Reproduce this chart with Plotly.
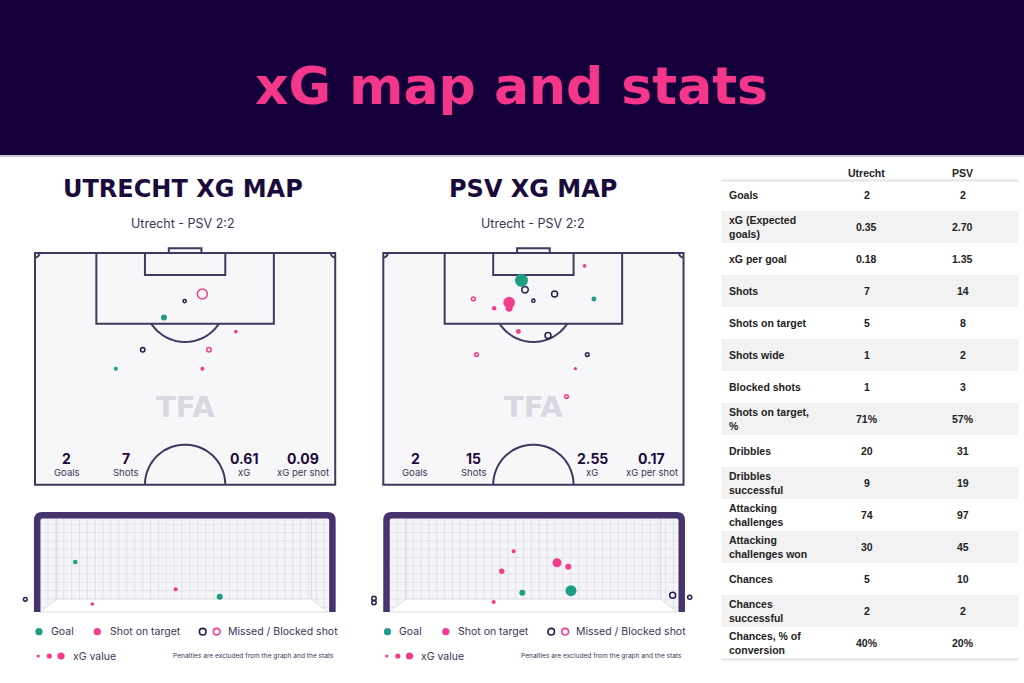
import numpy as np
import plotly.graph_objects as go

W, H = 1024, 683

# ---------------- data ----------------
title_text = "xG map and stats"
team_names = ["Utrecht", "PSV"]
panel_titles = ["UTRECHT XG MAP", "PSV XG MAP"]
match_label = "Utrecht - PSV 2:2"

pitch_stat_labels = ["Goals", "Shots", "xG", "xG per shot"]
utr_pitch_stats = ["2", "7", "0.61", "0.09"]
psv_pitch_stats = ["2", "15", "2.55", "0.17"]

# shots on the pitch (metres: x across 0-68, y distance from goal line)
utr_shot_x = [37.9, 33.9, 29.2, 45.5, 24.4, 39.4, 18.3, 37.9]
utr_shot_y = [9.3, 10.9, 14.6, 17.8, 21.9, 21.9, 26.2, 26.2]
utr_shot_xg = [0.44, 0.01, 0.11, 0.02, 0.04, 0.04, 0.03, 0.03]
utr_shot_type = ["blocked", "missed", "goal", "on_target", "missed", "blocked", "goal", "on_target"]

psv_shot_x = [45.6, 31.3, 32.1, 38.8, 20.4, 47.7, 28.5, 28.5, 34.0, 25.1, 30.6, 37.3, 21.1, 46.2, 43.5, 41.5]
psv_shot_y = [2.9, 6.2, 8.3, 9.3, 10.4, 10.4, 11.2, 12.5, 10.8, 12.5, 17.8, 18.7, 23.0, 23.0, 26.2, 32.5]
psv_shot_xg = [0.02, 0.84, 0.14, 0.11, 0.02, 0.06, 0.63, 0.17, 0.01, 0.04, 0.06, 0.11, 0.02, 0.02, 0.01, 0.02]
psv_shot_type = ["on_target", "goal", "missed", "missed", "blocked", "goal", "on_target", "on_target",
                 "missed", "on_target", "on_target", "missed", "blocked", "missed", "on_target", "blocked"]

# shots on the goal mouth (metres: x across goal 0-7.3, y height above ground)
utr_goal_x = [0.894, 1.325, 3.437, 4.552, -0.372]
utr_goal_y = [1.114, -0.15, 0.29, 0.07, -0.01]
utr_goal_xg = [0.05, 0.02, 0.03, 0.11, 0.02]
utr_goal_type = ["goal", "on_target", "on_target", "goal", "missed"]

psv_goal_x = [3.151, 4.248, 4.534, 2.847, 3.369, 4.602, 2.644, 7.178, 7.609, -0.388, -0.388]
psv_goal_y = [1.437, 1.093, 0.973, 0.834, 0.19, 0.25, -0.09, 0.11, 0.05, 0.015, -0.105]
psv_goal_xg = [0.03, 0.34, 0.11, 0.08, 0.11, 0.56, 0.03, 0.11, 0.03, 0.04, 0.04]
psv_goal_type = ["on_target", "on_target", "on_target", "on_target", "goal", "goal", "on_target",
                 "missed", "missed", "missed", "missed"]

table_labels = ["Goals", "xG (Expected<br>goals)", "xG per goal", "Shots", "Shots on target",
                "Shots wide", "Blocked shots", "Shots on target,<br>%", "Dribbles",
                "Dribbles<br>successful", "Attacking<br>challenges", "Attacking<br>challenges won",
                "Chances", "Chances<br>successful", "Chances, % of<br>conversion"]
table_utr = ["2", "0.35", "0.18", "7", "5", "1", "1", "71%", "20", "9", "74", "30", "5", "2", "40%"]
table_psv = ["2", "2.70", "1.35", "14", "8", "2", "3", "57%", "31", "19", "97", "45", "10", "2", "20%"]

legend_labels = ["Goal", "Shot on target", "Missed / Blocked shot", "xG value"]
footnote = "Penalties are excluded from the graph and the stats"

# ---------------- styles ----------------
NAVY = "#16003b"
TITLE_PINK = "#f4378b"
PINK = "#f23c8c"
TEAL = "#1f9e86"
DARK = "#2b1c50"
LINE = "#41375f"
FRAME = "#46326d"
TXT = "#1b0a3c"
SUB = "#3d3358"

def px(x):
    return x / W

def py(y):
    return 1 - y / H

def msize(xg):
    return 2 + 12 * np.sqrt(np.array(xg))

fig = go.Figure()
shapes = []
annotations = []

def ann(text, x, y, size, color, family="Inter", xanchor="center", yanchor="middle", xref="paper",
        yref="paper", align="center"):
    annotations.append(dict(text=text, x=x, y=y, xref=xref, yref=yref, showarrow=False,
                            xanchor=xanchor, yanchor=yanchor, align=align,
                            font=dict(family=family, size=size, color=color)))

# header
shapes.append(dict(type="rect", xref="paper", yref="paper", x0=0, x1=1, y0=py(155), y1=1,
                   fillcolor=NAVY, line=dict(width=0), layer="below"))
shapes.append(dict(type="line", xref="paper", yref="paper", x0=0, x1=1, y0=py(156), y1=py(156),
                   line=dict(color="#cbc7d4", width=2), layer="below"))
ann("<b>" + title_text + "</b>", px(511), py(86), 52, TITLE_PINK, family="DejaVu Sans")

# ---------------- axes ----------------
S = 4.415  # px per metre on the pitch
pitch_left = [35.0, 383.3]
pitch_top = 253.0
XR = [-1.5, 69.5]
YR = [-2.0, 53.5]

GS_X = 39.48  # px per metre across goal
GS_Y = 33.2   # px per metre of height
goal_left_inner = [40.0, 389.3]
ground_px = 599.0
GX = [-0.75, 8.05]
GY = [-0.45, 2.6]
GOAL_W = 7.3
NET_BOTTOM = -0.392
NET_TOP = 2.44

layout_axes = {}
for i in range(2):
    n = "" if i == 0 else "2"
    xl = pitch_left[i] + XR[0] * S
    xr = pitch_left[i] + XR[1] * S
    yt = pitch_top + YR[0] * S
    yb = pitch_top + YR[1] * S
    layout_axes["xaxis" + n] = dict(domain=[px(xl), px(xr)], range=XR, visible=False,
                                    anchor="y" + n, fixedrange=True)
    layout_axes["yaxis" + n] = dict(domain=[py(yb), py(yt)], range=[YR[1], YR[0]], visible=False,
                                    anchor="x" + n, fixedrange=True)
    m = str(i + 3)
    gl = goal_left_inner[i]
    gxl = gl + GX[0] * GS_X
    gxr = gl + GX[1] * GS_X
    gyt = ground_px - GY[1] * GS_Y
    gyb = ground_px - GY[0] * GS_Y
    layout_axes["xaxis" + m] = dict(domain=[px(gxl), px(gxr)], range=GX, visible=False,
                                    anchor="y" + m, fixedrange=True)
    layout_axes["yaxis" + m] = dict(domain=[py(gyb), py(gyt)], range=GY, visible=False,
                                    anchor="x" + m, fixedrange=True)

def arc_path(cx, cy, r, t0, t1, sign_y=1, n=40):
    t = np.linspace(t0, t1, n)
    xs = cx + r * np.cos(t)
    ys = cy + sign_y * r * np.sin(t)
    return "M " + " L ".join(f"{a:.3f},{b:.3f}" for a, b in zip(xs, ys))

# ---------------- pitches ----------------
for i in range(2):
    xref = "x" if i == 0 else "x2"
    yref = "y" if i == 0 else "y2"
    lw = dict(color=LINE, width=2)
    shapes.append(dict(type="rect", xref=xref, yref=yref, x0=0, x1=68, y0=0, y1=52.5,
                       fillcolor="#f7f7f9", line=lw, layer="below"))
    shapes.append(dict(type="rect", xref=xref, yref=yref, x0=13.9, x1=54.1, y0=0, y1=16.0,
                       line=lw, layer="below"))
    shapes.append(dict(type="rect", xref=xref, yref=yref, x0=24.9, x1=43.1, y0=0, y1=5.0,
                       line=lw, layer="below"))
    shapes.append(dict(type="rect", xref=xref, yref=yref, x0=30.3, x1=37.7, y0=-1.1, y1=0,
                       line=lw, fillcolor="#f7f7f9", layer="below"))
    a0 = np.arcsin((16.0 - 11.0) / 9.15)
    shapes.append(dict(type="path", xref=xref, yref=yref, path=arc_path(34, 11, 9.15, a0, np.pi - a0),
                       line=lw, layer="below"))
    shapes.append(dict(type="path", xref=xref, yref=yref, path=arc_path(34, 52.5, 9.1, 0, np.pi, sign_y=-1),
                       line=lw, layer="below"))
    shapes.append(dict(type="path", xref=xref, yref=yref, path=arc_path(0, 0, 1.0, 0, np.pi / 2),
                       line=lw, layer="below"))
    shapes.append(dict(type="path", xref=xref, yref=yref, path=arc_path(68, 0, 1.0, np.pi / 2, np.pi),
                       line=lw, layer="below"))
    ann("<b>TFA</b>", 34, 34.9, 29, "#d9d8e2", family="DejaVu Sans", xref=xref, yref=yref)
    stats = utr_pitch_stats if i == 0 else psv_pitch_stats
    for sx, val, lab in zip([7.2, 20.5, 47.3, 60.8], stats, pitch_stat_labels):
        ann("<b>" + val + "</b>", sx, 46.6, 14, TXT, xref=xref, yref=yref)
        ann(lab, sx, 49.8, 9.5, SUB, xref=xref, yref=yref)

# panel titles
for i in range(2):
    cx = [183.3, 532.5][i]
    ann("<b>" + panel_titles[i] + "</b>", px(cx), py(189), 24, TXT, family="DejaVu Sans")
    ann(match_label, px(cx), py(223.5), 12.5, SUB)

# ---------------- goal nets and frames ----------------
for i in range(2):
    dx = 0 if i == 0 else 349.3
    m = str(i + 3)
    xr_, yr_ = "x" + m, "y" + m
    shapes.append(dict(type="rect", xref=xr_, yref=yr_, x0=0, x1=GOAL_W, y0=NET_BOTTOM, y1=NET_TOP,
                       fillcolor="#f5f5f8", line=dict(width=0), layer="below"))
    segs = []
    for gx in np.arange(0.2, GOAL_W - 0.01, 0.2):
        segs.append(f"M {gx:.3f},{NET_BOTTOM} L {gx:.3f},{NET_TOP}")
    for gy in np.arange(-0.25, NET_TOP - 0.01, 0.25):
        segs.append(f"M 0,{gy:.3f} L {GOAL_W},{gy:.3f}")
    shapes.append(dict(type="path", xref=xr_, yref=yr_, path=" ".join(segs),
                       line=dict(color="#e2e2ea", width=1), layer="below"))
    shapes.append(dict(type="path", xref=xr_, yref=yr_,
                       path=f"M 0,{NET_BOTTOM} L 0.43,0 L 6.87,0 L {GOAL_W},{NET_BOTTOM} Z",
                       fillcolor="white", line=dict(color="#dcdce4", width=1), layer="below"))
    for bx in [0.43, 6.87]:
        shapes.append(dict(type="line", xref=xr_, yref=yr_, x0=bx, x1=bx, y0=0, y1=NET_TOP,
                           line=dict(color="#d6d6e0", width=1), layer="below"))
    lx = 37.2 + dx
    rx = 332.4 + dx
    ty = 515.3
    r = 5
    path = (f"M {px(lx)},{py(612)} L {px(lx)},{py(ty + r)} Q {px(lx)},{py(ty)} {px(lx + r)},{py(ty)} "
            f"L {px(rx - r)},{py(ty)} Q {px(rx)},{py(ty)} {px(rx)},{py(ty + r)} L {px(rx)},{py(612)}")
    shapes.append(dict(type="path", xref="paper", yref="paper", path=path,
                       line=dict(color=FRAME, width=6.5), layer="above"))

# ---------------- shot traces ----------------
STYLE = {
    "goal": dict(symbol="circle", color=TEAL),
    "on_target": dict(symbol="circle", color=PINK),
    "missed": dict(symbol="circle-open", color=DARK),
    "blocked": dict(symbol="circle-open", color=PINK),
}

def add_shots(xs, ys, xgs, types, xa, ya):
    xs = np.array(xs); ys = np.array(ys); xgs = np.array(xgs); types = np.array(types)
    for kind in ["missed", "blocked", "on_target", "goal"]:
        sel = types == kind
        if not sel.any():
            continue
        st = STYLE[kind]
        open_ = st["symbol"].endswith("open")
        fig.add_trace(go.Scatter(
            x=xs[sel], y=ys[sel], mode="markers", xaxis=xa, yaxis=ya, cliponaxis=False,
            showlegend=False, hoverinfo="skip",
            marker=dict(symbol=st["symbol"], color=st["color"], size=msize(xgs[sel]),
                        line=dict(width=1.5 if open_ else 0, color=st["color"]), opacity=1)))

add_shots(utr_shot_x, utr_shot_y, utr_shot_xg, utr_shot_type, "x", "y")
add_shots(psv_shot_x, psv_shot_y, psv_shot_xg, psv_shot_type, "x2", "y2")
add_shots(utr_goal_x, utr_goal_y, utr_goal_xg, utr_goal_type, "x3", "y3")
add_shots(psv_goal_x, psv_goal_y, psv_goal_xg, psv_goal_type, "x4", "y4")

# ---------------- legends ----------------
def circle(cx, cy, r, fill=None, line=None):
    d = dict(type="circle", xref="paper", yref="paper", x0=px(cx - r), x1=px(cx + r),
             y0=py(cy + r), y1=py(cy - r), layer="above")
    if fill:
        d["fillcolor"] = fill
        d["line"] = dict(width=0)
    else:
        d["fillcolor"] = "white"
        d["line"] = dict(color=line, width=1.6)
    return d

for i in range(2):
    dx = 0 if i == 0 else 348.5
    y1, y2 = 631.7, 656.0
    shapes.append(circle(39 + dx, y1, 3.6, fill=TEAL))
    shapes.append(circle(97.3 + dx, y1, 3.6, fill=PINK))
    shapes.append(circle(202.7 + dx, y1, 3.3, line=DARK))
    shapes.append(circle(216.7 + dx, y1, 3.3, line=PINK))
    shapes.append(circle(38.3 + dx, y2, 1.6, fill=PINK))
    shapes.append(circle(49.3 + dx, y2, 2.6, fill=PINK))
    shapes.append(circle(61.0 + dx, y2, 3.6, fill=PINK))
    for tx, ty, lab in [(48.5, y1, legend_labels[0]), (107.5, y1, legend_labels[1]),
                        (225.5, y1, legend_labels[2]), (70.5, y2, legend_labels[3])]:
        ann(lab, px(tx + dx), py(ty), 10.5, SUB, xanchor="left")
    ann(footnote, px(335.5 + dx), py(y2), 6.6, SUB, xanchor="right")

# ---------------- table ----------------
TL, TR = 721.5, 1018.5
row_top0 = 179.0
row_h = 32.0
TFONT = "Liberation Sans"
for k in range(len(table_labels)):
    top = row_top0 + k * row_h
    if k % 2 == 1:
        shapes.append(dict(type="rect", xref="paper", yref="paper", x0=px(TL), x1=px(TR),
                           y0=py(top + row_h), y1=py(top), fillcolor="#f2f2f3",
                           line=dict(width=0), layer="below"))
    cy = top + row_h / 2
    ann("<b>" + table_labels[k] + "</b>", px(727), py(cy), 10.5, "#222222", family=TFONT,
        xanchor="left", align="left")
    for cx, val in [(866.7, table_utr[k]), (962.7, table_psv[k])]:
        ann("<b>" + val + "</b>", px(cx), py(cy), 10.5, "#222222", family=TFONT)
for cx, name in zip([866.7, 962.7], team_names):
    ann("<b>" + name + "</b>", px(cx), py(172.5), 10.5, "#222222", family=TFONT)
for ly in [180.5, 659.5]:
    shapes.append(dict(type="line", xref="paper", yref="paper", x0=px(TL), x1=px(TR), y0=py(ly), y1=py(ly),
                       line=dict(color="#e4e4e8", width=2), layer="below"))

fig.update_layout(
    width=W, height=H, margin=dict(l=0, r=0, t=0, b=0),
    paper_bgcolor="white", plot_bgcolor="rgba(0,0,0,0)",
    shapes=shapes, annotations=annotations, showlegend=False,
    **layout_axes,
)

fig.write_html("out.html", config=dict(displayModeBar=False),
               post_script="document.body.style.margin='0';document.body.style.overflow='hidden';")
